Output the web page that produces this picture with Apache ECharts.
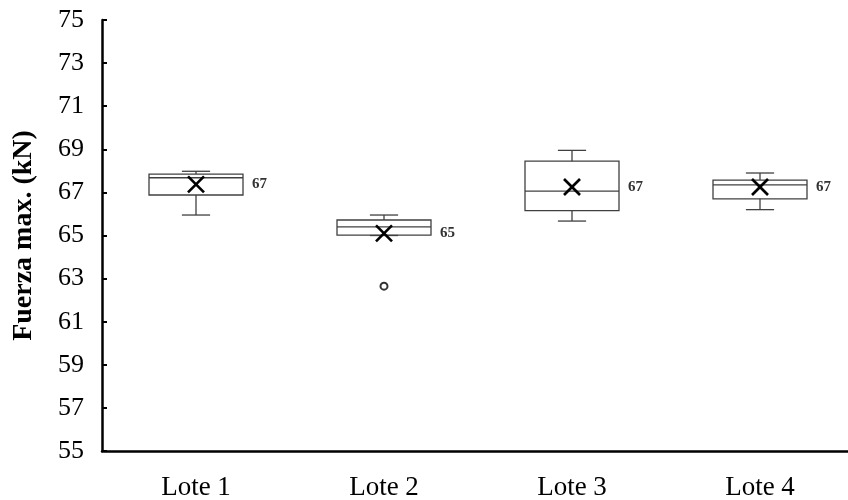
<!DOCTYPE html>
<html>
<head>
<meta charset="utf-8">
<script src="https://cdn.jsdelivr.net/npm/echarts@6/dist/echarts.min.js"></script>
<style>
  html, body { margin: 0; padding: 0; background: #fff; }
  #chart { width: 848px; height: 500px; }
</style>
</head>
<body>
<div id="chart"></div>
<script>
// categorias y estadisticos
const categories = ['Lote 1', 'Lote 2', 'Lote 3', 'Lote 4'];
const whiskerLow = [65.95, 65.0, 65.67, 66.2];
const q1 = [66.88, 65.02, 66.15, 66.7];
const median = [67.68, 65.4, 67.06, 67.35];
const q3 = [67.85, 65.72, 68.45, 67.57];
const whiskerHigh = [67.98, 65.95, 68.95, 67.9];
const means = [67.37, 65.1, 67.25, 67.25];
const outliers = [[1, 62.65]];

const serif = '"Liberation Serif", "DejaVu Serif", serif';
const lineColor = '#404040';

const boxData = categories.map((c, i) => [i, whiskerLow[i], q1[i], median[i], q3[i], whiskerHigh[i], means[i]]);

function renderBox(params, api) {
  const i = api.value(0);
  const band = api.size([1, 0])[0];
  const halfBox = band * 0.25;
  const halfCap = band * 0.075;
  const pLow = api.coord([i, api.value(1)]);
  const pQ1 = api.coord([i, api.value(2)]);
  const pMed = api.coord([i, api.value(3)]);
  const pQ3 = api.coord([i, api.value(4)]);
  const pHigh = api.coord([i, api.value(5)]);
  const pMean = api.coord([i, api.value(6)]);
  const x = pQ1[0];
  const ln = { stroke: lineColor, lineWidth: 1.3 };
  const mk = { stroke: '#000', lineWidth: 2.6 };
  const s = 8;
  return {
    type: 'group',
    children: [
      { type: 'line', shape: { x1: x, y1: pHigh[1], x2: x, y2: pQ3[1] }, style: ln },
      { type: 'line', shape: { x1: x, y1: pQ1[1], x2: x, y2: pLow[1] }, style: ln },
      { type: 'line', shape: { x1: x - halfCap, y1: pHigh[1], x2: x + halfCap, y2: pHigh[1] }, style: ln },
      { type: 'line', shape: { x1: x - halfCap, y1: pLow[1], x2: x + halfCap, y2: pLow[1] }, style: ln },
      { type: 'rect', shape: { x: x - halfBox, y: pQ3[1], width: halfBox * 2, height: pQ1[1] - pQ3[1] },
        style: { fill: 'none', stroke: lineColor, lineWidth: 1.3 } },
      { type: 'line', shape: { x1: x - halfBox, y1: pMed[1], x2: x + halfBox, y2: pMed[1] }, style: ln },
      { type: 'line', shape: { x1: x - s, y1: pMean[1] - s, x2: x + s, y2: pMean[1] + s }, style: mk },
      { type: 'line', shape: { x1: x - s, y1: pMean[1] + s, x2: x + s, y2: pMean[1] - s }, style: mk },
      { type: 'text', x: x + halfBox + 9, y: pMean[1],
        style: { text: String(Math.round(api.value(6))), font: 'bold 15px ' + serif,
          fill: '#333', verticalAlign: 'middle', align: 'left' } }
    ]
  };
}

const chart = echarts.init(document.getElementById('chart'), null, { renderer: 'canvas' });

chart.setOption({
  animation: false,
  grid: { left: 102, top: 20, width: 752, height: 431, outerBoundsMode: 'none' },
  xAxis: {
    type: 'category',
    data: categories,
    boundaryGap: true,
    axisLine: { lineStyle: { color: '#000', width: 2.5 } },
    axisTick: { inside: true, length: 5, lineStyle: { color: '#000', width: 2 } },
    axisLabel: { fontFamily: serif, fontSize: 27, color: '#000', margin: 23 },
    splitLine: { show: false }
  },
  yAxis: {
    type: 'value',
    min: 55,
    max: 75,
    interval: 2,
    name: 'Fuerza max. (kN)',
    nameLocation: 'middle',
    nameGap: 64,
    nameTextStyle: { fontFamily: serif, fontSize: 28, fontWeight: 'bold', color: '#000' },
    axisLine: { show: true, lineStyle: { color: '#000', width: 2.5 } },
    axisTick: { show: true, inside: true, length: 5, lineStyle: { color: '#000', width: 2 } },
    axisLabel: { fontFamily: serif, fontSize: 26, color: '#000', margin: 18 },
    splitLine: { show: false }
  },
  series: [
    {
      type: 'custom',
      renderItem: renderBox,
      data: boxData,
      encode: { x: 0, y: [1, 2, 3, 4, 5, 6] },
      z: 2
    },
    {
      type: 'scatter',
      data: outliers,
      symbol: 'circle',
      symbolSize: 7,
      itemStyle: { color: '#fff', borderColor: '#000', borderWidth: 2 },
      z: 3
    }
  ]
});
</script>
</body>
</html>
